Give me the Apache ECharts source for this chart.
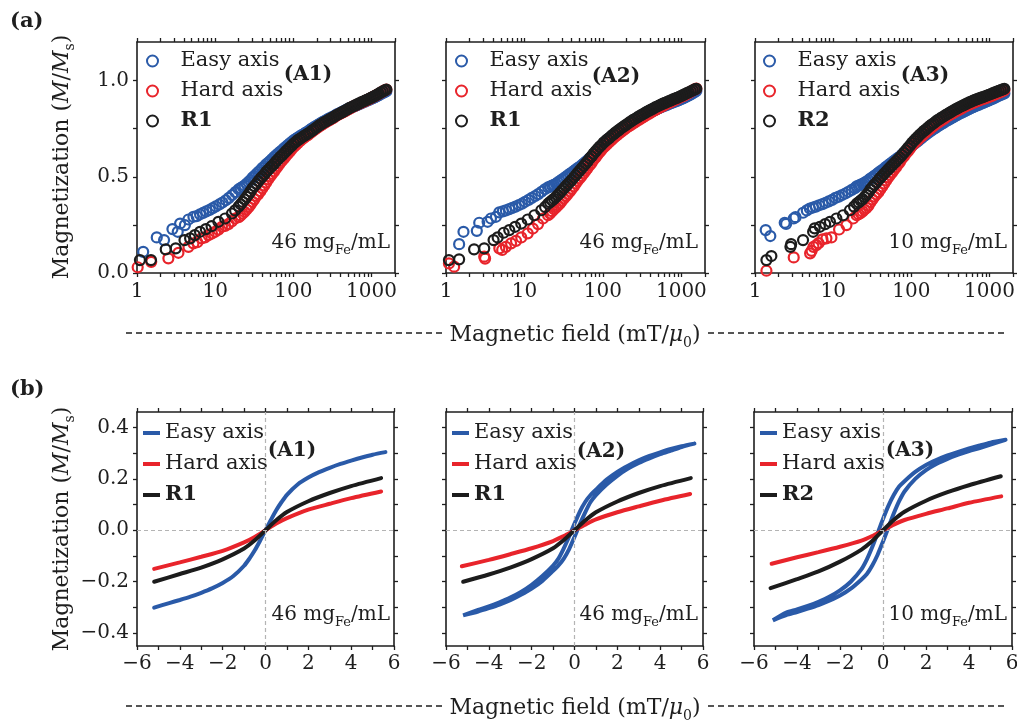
<!DOCTYPE html>
<html><head><meta charset="utf-8">
<script src="https://cdn.jsdelivr.net/npm/echarts@6.0.0/dist/echarts.min.js"></script>
<style>html,body{margin:0;padding:0;background:#fff;}#chart{width:1017px;height:724px;}</style>
</head><body><div id="chart"></div>
<script>
// ---------------- data ----------------
const panelIds = ['A1', 'A2', 'A3'];
const refNames = ['R1', 'R1', 'R2'];
const concValues = ['46', '46', '10'];
const easyName = 'Easy axis';
const hardName = 'Hard axis';

// (a) tick values
const fieldMajorTicks = [1, 10, 100, 1000];
const fieldAllTicks = [1,2,3,4,5,6,7,8,9,10,20,30,40,50,60,70,80,90,100,200,300,400,500,600,700,800,900,1000,2000];
const magTicksA = [0, 0.25, 0.5, 0.75, 1.0];
const magLabelsA = [0, 0.5, 1.0];
// (b) tick values
const magTicksB = [-0.4, -0.3, -0.2, -0.1, 0, 0.1, 0.2, 0.3, 0.4];
const magLabelsB = [-0.4, -0.2, 0, 0.2, 0.4];

// (a) high-field measurement fields (mT) shared by the dense part of each scatter series
const fieldGrid = [20,21.2,22.5,23.8,25.2,26.7,28.3,30,31.8,33.7,
  35.7,37.9,40.1,42.5,45,47.7,50.6,53.6,56.8,60.2,
  63.8,67.7,71.7,76,80.6,85.4,90.5,96,102,108,
  114,121,128,136,144,153,162,172,182,193,
  204,217,230,243,258,274,290,307,326,345,
  366,388,411,436,462,490,519,550,583,618,
  655,695,736,781,827,877,930,985,1045,1107,
  1174,1244,1319,1398,1482,1550];

// (a) low-field points [H, M/Ms]
const lowA1Easy = [[1.2,0.11],[1.79,0.185],[2.22,0.171],[2.84,0.228],[3.32,0.214],[3.56,0.257],[4.1,0.249],[4.55,0.278],[5.27,0.292],[5.8,0.295],[6.4,0.305],[7,0.312],[7.7,0.32],[8.5,0.328],[9.3,0.337],[10.2,0.346],[11.3,0.356],[12.4,0.366],[13.7,0.378],[15,0.39],[16.5,0.405],[18.2,0.42]];
const lowA1Hard = [[1.02,0.03],[1.52,0.058],[2.52,0.076],[3.39,0.105],[4.55,0.136],[5.27,0.154],[5.9,0.16],[6.7,0.18],[7.4,0.185],[8.2,0.197],[9.1,0.205],[10,0.214],[11,0.225],[12.2,0.24],[13.4,0.245],[14.8,0.254],[16.3,0.268],[18,0.283]];
const lowA1Ref = [[1.09,0.067],[1.51,0.067],[2.33,0.123],[3.13,0.128],[4.05,0.171],[4.78,0.18],[5.5,0.197],[6.4,0.214],[7.6,0.228],[9.0,0.243],[11,0.266],[13.4,0.283],[16.4,0.309],[18,0.325]];
const lowA2Easy = [[1.47,0.15],[1.67,0.214],[2.47,0.219],[2.65,0.261],[3.39,0.266],[3.74,0.283],[4.33,0.292],[4.78,0.315],[5.3,0.32],[5.8,0.325],[6.4,0.332],[7,0.338],[7.7,0.345],[8.5,0.353],[9.3,0.36],[10.2,0.37],[11.3,0.38],[12.4,0.39],[13.7,0.40],[15,0.41],[16.5,0.422],[18.2,0.435]];
const lowA2Hard = [[1.09,0.05],[1.27,0.033],[3.07,0.085],[3.15,0.075],[4.78,0.128],[5.2,0.12],[5.8,0.136],[6.75,0.154],[7.8,0.167],[9.1,0.185],[11,0.206],[12.8,0.231],[14.9,0.254],[17.2,0.283]];
const lowA2Ref = [[1.09,0.067],[1.47,0.071],[2.28,0.123],[3.07,0.128],[4.04,0.171],[4.55,0.185],[5.43,0.209],[6.4,0.223],[7.6,0.24],[9.1,0.257],[11,0.278],[13.4,0.30],[16.4,0.326],[18.3,0.343]];
const lowA3Easy = [[1.37,0.223],[1.57,0.192],[2.4,0.261],[2.5,0.255],[3.13,0.283],[3.3,0.29],[4.12,0.313],[4.6,0.325],[5.03,0.335],[5.5,0.34],[6,0.345],[6.6,0.352],[7.3,0.358],[8,0.365],[8.8,0.372],[9.7,0.38],[10.7,0.39],[11.8,0.397],[13,0.405],[14.3,0.413],[15.7,0.422],[17.3,0.432],[19,0.441]];
const lowA3Hard = [[1.4,0.012],[3.13,0.081],[5.07,0.102],[5.3,0.115],[5.6,0.136],[6.1,0.145],[6.5,0.155],[7.3,0.175],[8.2,0.18],[9.5,0.185],[11.9,0.226],[14.8,0.249],[18,0.283]];
const lowA3Ref = [[1.4,0.067],[1.62,0.088],[2.84,0.136],[2.9,0.15],[4.12,0.171],[5.54,0.214],[5.8,0.232],[6.76,0.24],[7.9,0.254],[9.1,0.266],[11,0.283],[13.4,0.30],[16.4,0.326],[18.5,0.345]];

// (a) M/Ms read on fieldGrid
const hiA1Easy = [0.435,0.441,0.448,0.454,0.463,0.473,0.482,0.495,0.503,0.514,
  0.524,0.533,0.545,0.553,0.565,0.573,0.582,0.592,0.602,0.611,
  0.62,0.629,0.637,0.648,0.656,0.665,0.674,0.682,0.69,0.697,
  0.703,0.71,0.716,0.722,0.729,0.735,0.742,0.75,0.756,0.762,
  0.768,0.775,0.781,0.787,0.792,0.798,0.803,0.808,0.813,0.819,
  0.825,0.83,0.835,0.84,0.845,0.85,0.855,0.859,0.864,0.868,
  0.872,0.877,0.881,0.886,0.89,0.895,0.899,0.904,0.908,0.913,
  0.918,0.924,0.93,0.935,0.94,0.944];
const hiA1Hard = [0.29,0.299,0.309,0.318,0.33,0.342,0.355,0.37,0.384,0.4,
  0.41,0.425,0.44,0.455,0.47,0.487,0.502,0.515,0.528,0.543,
  0.556,0.571,0.583,0.595,0.608,0.62,0.632,0.644,0.656,0.665,
  0.675,0.685,0.694,0.701,0.709,0.716,0.725,0.733,0.741,0.748,
  0.755,0.763,0.769,0.776,0.782,0.788,0.794,0.8,0.806,0.813,
  0.82,0.825,0.83,0.836,0.841,0.847,0.852,0.859,0.864,0.869,
  0.874,0.879,0.884,0.889,0.893,0.898,0.903,0.908,0.914,0.919,
  0.925,0.931,0.937,0.943,0.949,0.953];
const hiA1Ref = [0.345,0.357,0.37,0.382,0.395,0.409,0.424,0.44,0.452,0.463,
  0.477,0.49,0.501,0.512,0.525,0.536,0.547,0.557,0.567,0.58,
  0.591,0.602,0.611,0.622,0.633,0.643,0.653,0.663,0.674,0.682,
  0.69,0.697,0.704,0.711,0.717,0.724,0.73,0.738,0.745,0.753,
  0.76,0.768,0.774,0.781,0.786,0.792,0.798,0.803,0.81,0.816,
  0.822,0.827,0.833,0.838,0.844,0.85,0.856,0.861,0.866,0.871,
  0.876,0.881,0.886,0.891,0.895,0.9,0.905,0.91,0.915,0.92,
  0.926,0.932,0.938,0.943,0.949,0.953];
const hiA2Easy = [0.445,0.449,0.454,0.458,0.463,0.471,0.478,0.485,0.492,0.5,
  0.507,0.515,0.522,0.53,0.537,0.545,0.552,0.56,0.568,0.577,
  0.586,0.596,0.605,0.615,0.626,0.637,0.648,0.66,0.672,0.683,
  0.692,0.7,0.708,0.716,0.724,0.732,0.74,0.748,0.755,0.762,
  0.769,0.776,0.782,0.788,0.794,0.8,0.806,0.811,0.817,0.822,
  0.828,0.833,0.838,0.843,0.847,0.852,0.856,0.861,0.865,0.869,
  0.873,0.878,0.882,0.886,0.89,0.894,0.898,0.903,0.907,0.912,
  0.917,0.922,0.928,0.934,0.941,0.946];
const hiA2Hard = [0.30,0.31,0.321,0.331,0.341,0.351,0.362,0.375,0.387,0.399,
  0.411,0.424,0.437,0.45,0.465,0.479,0.492,0.504,0.518,0.532,
  0.545,0.56,0.572,0.588,0.6,0.614,0.627,0.639,0.652,0.662,
  0.671,0.681,0.69,0.7,0.709,0.717,0.726,0.734,0.742,0.75,
  0.757,0.764,0.771,0.777,0.784,0.791,0.797,0.803,0.81,0.816,
  0.822,0.828,0.834,0.84,0.846,0.852,0.857,0.863,0.868,0.874,
  0.879,0.884,0.889,0.894,0.899,0.904,0.909,0.914,0.919,0.924,
  0.93,0.936,0.942,0.948,0.954,0.958];
const hiA2Ref = [0.36,0.368,0.377,0.385,0.395,0.405,0.416,0.428,0.439,0.451,
  0.462,0.473,0.484,0.496,0.508,0.52,0.532,0.544,0.556,0.568,
  0.58,0.595,0.606,0.62,0.632,0.644,0.655,0.665,0.677,0.686,
  0.694,0.702,0.712,0.72,0.729,0.737,0.745,0.753,0.76,0.767,
  0.774,0.782,0.788,0.796,0.801,0.808,0.814,0.82,0.826,0.832,
  0.838,0.843,0.849,0.854,0.86,0.865,0.87,0.875,0.88,0.884,
  0.888,0.893,0.897,0.902,0.906,0.91,0.914,0.919,0.924,0.929,
  0.934,0.939,0.944,0.949,0.954,0.957];
const hiA3Easy = [0.45,0.454,0.459,0.463,0.469,0.475,0.482,0.49,0.497,0.505,
  0.512,0.52,0.528,0.535,0.543,0.551,0.559,0.567,0.575,0.583,
  0.59,0.598,0.605,0.615,0.624,0.633,0.642,0.651,0.662,0.67,
  0.677,0.685,0.694,0.702,0.711,0.718,0.726,0.734,0.741,0.748,
  0.754,0.762,0.768,0.774,0.78,0.787,0.793,0.798,0.804,0.81,
  0.816,0.821,0.827,0.832,0.837,0.842,0.847,0.852,0.857,0.862,
  0.867,0.871,0.875,0.88,0.884,0.888,0.892,0.897,0.902,0.906,
  0.911,0.916,0.921,0.925,0.93,0.933];
const hiA3Hard = [0.30,0.305,0.312,0.32,0.33,0.338,0.35,0.368,0.382,0.397,
  0.408,0.42,0.435,0.45,0.465,0.481,0.497,0.51,0.523,0.537,
  0.55,0.565,0.577,0.595,0.607,0.621,0.633,0.646,0.661,0.672,
  0.681,0.691,0.701,0.711,0.72,0.729,0.739,0.747,0.756,0.764,
  0.772,0.78,0.786,0.793,0.799,0.807,0.814,0.82,0.826,0.832,
  0.838,0.843,0.849,0.854,0.86,0.865,0.87,0.875,0.879,0.884,
  0.888,0.892,0.896,0.9,0.904,0.907,0.911,0.915,0.919,0.923,
  0.928,0.932,0.937,0.941,0.946,0.95];
const hiA3Ref = [0.36,0.367,0.376,0.384,0.395,0.406,0.418,0.435,0.447,0.459,
  0.47,0.483,0.494,0.505,0.516,0.527,0.538,0.549,0.559,0.57,
  0.58,0.591,0.601,0.613,0.625,0.637,0.65,0.662,0.676,0.687,
  0.697,0.707,0.718,0.727,0.737,0.745,0.754,0.763,0.771,0.778,
  0.786,0.794,0.8,0.807,0.813,0.82,0.826,0.832,0.838,0.844,
  0.85,0.855,0.861,0.866,0.871,0.876,0.881,0.886,0.89,0.895,
  0.899,0.903,0.907,0.911,0.914,0.918,0.922,0.926,0.93,0.934,
  0.938,0.942,0.946,0.95,0.954,0.957];

// (b) loops [H (mT), M/Ms]
const loopB1Easy = [[-5.2,-0.301],[-4.5,-0.283],[-4,-0.271],[-3.5,-0.258],[-3,-0.243],[-2.5,-0.226],[-2,-0.205],[-1.5,-0.178],[-1,-0.138],[-0.75,-0.11],[-0.5,-0.078],[-0.25,-0.04],[0,0],[0.25,0.04],[0.5,0.078],[0.75,0.11],[1,0.138],[1.5,0.178],[2,0.205],[2.5,0.226],[3,0.243],[3.5,0.258],[4,0.271],[4.5,0.283],[5,0.294],[5.6,0.304]];
const loopB1Hard = [[-5.2,-0.15],[-4,-0.125],[-3,-0.103],[-2,-0.08],[-1,-0.047],[-0.5,-0.026],[0,0],[0.5,0.026],[1,0.047],[2,0.08],[3,0.103],[4,0.125],[5.4,0.151]];
const loopB1Ref = [[-5.2,-0.2],[-4,-0.17],[-3,-0.145],[-2,-0.113],[-1,-0.071],[-0.5,-0.039],[0,0],[0.5,0.039],[1,0.071],[2,0.113],[3,0.145],[4,0.172],[5.4,0.203]];
const loopB2EasyDown = [[5.6,0.337],[5,0.327],[4.5,0.316],[4,0.303],[3.5,0.289],[3,0.272],[2.5,0.251],[2,0.227],[1.5,0.197],[1,0.158],[0.75,0.137],[0.5,0.11],[0.25,0.073],[0,0.026],[-0.25,-0.024],[-0.5,-0.07],[-0.75,-0.11],[-1,-0.137],[-1.5,-0.178],[-2,-0.212],[-2.5,-0.24],[-3,-0.262],[-3.5,-0.28],[-4,-0.296],[-4.5,-0.31],[-5.2,-0.331]];
const loopB2EasyUp = [[-5.2,-0.331],[-4.5,-0.316],[-4,-0.303],[-3.5,-0.289],[-3,-0.272],[-2.5,-0.251],[-2,-0.227],[-1.5,-0.197],[-1,-0.158],[-0.75,-0.137],[-0.5,-0.11],[-0.25,-0.073],[0,-0.026],[0.25,0.024],[0.5,0.07],[0.75,0.11],[1,0.137],[1.5,0.178],[2,0.212],[2.5,0.24],[3,0.262],[3.5,0.28],[4,0.296],[4.5,0.31],[5,0.324],[5.6,0.337]];
const loopB2Hard = [[-5.26,-0.14],[-4,-0.115],[-3,-0.093],[-2,-0.07],[-1,-0.042],[-0.5,-0.022],[0,0],[0.5,0.022],[1,0.042],[2,0.07],[3,0.093],[4,0.115],[5.4,0.141]];
const loopB2Ref = [[-5.2,-0.2],[-4,-0.172],[-3,-0.145],[-2,-0.112],[-1,-0.07],[-0.5,-0.038],[0,0],[0.5,0.038],[1,0.07],[2,0.112],[3,0.145],[4,0.172],[5.43,0.203]];
const loopB3EasyDown = [[5.7,0.352],[5,0.341],[4.5,0.33],[4,0.318],[3.5,0.305],[3,0.291],[2.5,0.274],[2,0.254],[1.5,0.227],[1,0.191],[0.75,0.17],[0.5,0.137],[0.25,0.095],[0,0.044],[-0.25,-0.011],[-0.5,-0.065],[-0.75,-0.113],[-1,-0.151],[-1.5,-0.2],[-2,-0.234],[-2.5,-0.259],[-3,-0.278],[-3.5,-0.294],[-4,-0.308],[-4.5,-0.32],[-5.12,-0.35]];
const loopB3EasyUp = [[-5.12,-0.35],[-4.5,-0.33],[-4,-0.318],[-3.5,-0.305],[-3,-0.291],[-2.5,-0.274],[-2,-0.254],[-1.5,-0.227],[-1,-0.191],[-0.75,-0.17],[-0.5,-0.137],[-0.25,-0.095],[0,-0.044],[0.25,0.011],[0.5,0.065],[0.75,0.113],[1,0.151],[1.5,0.2],[2,0.234],[2.5,0.259],[3,0.278],[3.5,0.294],[4,0.308],[4.5,0.32],[5,0.333],[5.7,0.352]];
const loopB3Hard = [[-5.18,-0.13],[-4,-0.105],[-3,-0.085],[-2,-0.064],[-1,-0.04],[-0.5,-0.022],[0,0],[0.5,0.022],[1,0.04],[2,0.064],[3,0.085],[4,0.107],[5.5,0.132]];
const loopB3Ref = [[-5.23,-0.225],[-4,-0.19],[-3,-0.16],[-2,-0.122],[-1,-0.075],[-0.5,-0.042],[0,0],[0.5,0.04],[1,0.072],[2,0.115],[3,0.148],[4,0.175],[5.48,0.21]];

// ---------------- style / layout ----------------
const FONT = 'DejaVu Serif';
const AX = '#1e1e1e';
const TXT = '#1e1e1e';
const COL = { easy: '#2a5aa8', hard: '#e8242b', ref: '#1c1c1c' };
const gridRects = [
  { left: 137, top: 42, width: 258, height: 231 },
  { left: 446, top: 42, width: 259, height: 231 },
  { left: 755, top: 42, width: 258, height: 231 },
  { left: 137, top: 412, width: 257, height: 234 },
  { left: 446, top: 412, width: 257, height: 234 },
  { left: 754, top: 412, width: 258, height: 234 }
];
const legendPosA = [146, 455, 763];
const legendPosB = [143, 452, 760];
const tagPos = [[308, 75], [616, 77], [925, 76], [292, 451], [601, 452], [910, 451]];
const concRight = [390, 698, 1007];

const lowEasy = [lowA1Easy, lowA2Easy, lowA3Easy];
const lowHard = [lowA1Hard, lowA2Hard, lowA3Hard];
const lowRef = [lowA1Ref, lowA2Ref, lowA3Ref];
const hiEasy = [hiA1Easy, hiA2Easy, hiA3Easy];
const hiHard = [hiA1Hard, hiA2Hard, hiA3Hard];
const hiRef = [hiA1Ref, hiA2Ref, hiA3Ref];
const bEasy = [loopB1Easy, loopB2EasyDown.concat(loopB2EasyUp), loopB3EasyDown.concat(loopB3EasyUp)];
const bHard = [loopB1Hard, loopB2Hard, loopB3Hard];
const bRef = [loopB1Ref, loopB2Ref, loopB3Ref];

function combine(low, hi) { return low.concat(fieldGrid.map((h, k) => [h, hi[k]])); }
function minus(s) { return String(s).replace('-', '\u2212'); }

const lineStyleAx = { color: AX, width: 1.6 };
const tickStyle = { color: AX, width: 1.3 };
const labelBase = { fontFamily: FONT, fontSize: 20, color: TXT };

const grid = gridRects.map(r => Object.assign({ containLabel: false, outerBoundsMode: 'none' }, r));
const xAxis = [], yAxis = [], series = [], legend = [];

// ----- panel (a) axes -----
for (let i = 0; i < 3; i++) {
  ['bottom', 'top'].forEach(pos => {
    xAxis.push({
      type: 'log', logBase: 10, gridIndex: i, min: 1, max: 2000, position: pos,
      axisLine: { show: true, onZero: false, lineStyle: lineStyleAx },
      axisTick: { show: true, length: 4, lineStyle: tickStyle, customValues: fieldAllTicks },
      axisLabel: pos === 'bottom'
        ? Object.assign({ show: true, margin: 9, customValues: fieldMajorTicks, formatter: v => String(Math.round(v)) }, labelBase)
        : { show: false },
      splitLine: { show: false }, minorTick: { show: false }
    });
  });
  ['left', 'right'].forEach(pos => {
    yAxis.push({
      type: 'value', gridIndex: i, min: 0, max: 1.2, position: pos,
      axisLine: { show: true, onZero: false, lineStyle: lineStyleAx },
      axisTick: { show: true, length: 4, lineStyle: tickStyle, customValues: magTicksA },
      axisLabel: (pos === 'left' && i === 0)
        ? Object.assign({ show: true, margin: 8, customValues: magLabelsA, formatter: v => v.toFixed(1) }, labelBase)
        : { show: false },
      splitLine: { show: false }
    });
  });
}
// ----- panel (b) axes -----
for (let i = 0; i < 3; i++) {
  const g = 3 + i;
  ['bottom', 'top'].forEach(pos => {
    xAxis.push({
      type: 'value', gridIndex: g, min: -6, max: 6, interval: 2, position: pos,
      axisLine: { show: true, onZero: false, lineStyle: lineStyleAx },
      axisTick: { show: true, length: 4, lineStyle: tickStyle },
      minorTick: { show: true, splitNumber: 2, length: 4, lineStyle: tickStyle },
      axisLabel: pos === 'bottom'
        ? Object.assign({ show: true, margin: 8, formatter: v => minus(v) }, labelBase)
        : { show: false },
      splitLine: { show: false }
    });
  });
  ['left', 'right'].forEach(pos => {
    yAxis.push({
      type: 'value', gridIndex: g, min: -0.45, max: 0.46, position: pos,
      axisLine: { show: true, onZero: false, lineStyle: lineStyleAx },
      axisTick: { show: true, length: 4, lineStyle: tickStyle, customValues: magTicksB },
      axisLabel: (pos === 'left' && i === 0)
        ? Object.assign({ show: true, margin: 8, customValues: magLabelsB, formatter: v => minus(v.toFixed(1)) }, labelBase)
        : { show: false },
      splitLine: { show: false }
    });
  });
}

// ----- series -----
const legendText = {
  fontFamily: FONT, fontSize: 21, color: TXT, lineHeight: 24,
  rich: { b: { fontFamily: FONT, fontSize: 21, fontWeight: 'bold', color: TXT, lineHeight: 24 } }
};
function legendFmt(name) { const t = name.split('|')[1]; return /^R\d/.test(t) ? '{b|' + t + '}' : t; }

for (let i = 0; i < 3; i++) {
  const names = [];
  [[easyName, COL.easy, lowEasy[i], hiEasy[i]], [hardName, COL.hard, lowHard[i], hiHard[i]], [refNames[i], COL.ref, lowRef[i], hiRef[i]]]
    .forEach(([nm, col, low, hi]) => {
      const sname = 'a' + panelIds[i] + '|' + nm;
      names.push(sname);
      series.push({
        type: 'scatter', name: sname, xAxisIndex: 2 * i, yAxisIndex: 2 * i,
        symbol: 'circle', symbolSize: 10,
        itemStyle: { color: 'transparent', borderColor: col, borderWidth: 2.2, opacity: 1 },
        data: combine(low, hi), silent: true, animation: false
      });
    });
  legend.push({
    orient: 'vertical', left: legendPosA[i], top: 49, padding: 0, itemGap: 6,
    itemWidth: 46, itemHeight: 11, selectedMode: false,
    data: names, formatter: legendFmt, textStyle: legendText
  });
}
for (let i = 0; i < 3; i++) {
  const g = 3 + i;
  // zero reference lines
  series.push({
    type: 'line', name: 'zero' + i, xAxisIndex: 2 * g, yAxisIndex: 2 * g, data: [], z: 1, silent: true,
    markLine: {
      silent: true, symbol: ['none', 'none'], label: { show: false }, animation: false,
      lineStyle: { color: '#b4b4b4', type: [4, 3], width: 1.2 },
      data: [{ xAxis: 0 }, { yAxis: 0 }]
    }
  });
  const names = [];
  [[easyName, COL.easy, bEasy[i]], [hardName, COL.hard, bHard[i]], [refNames[i], COL.ref, bRef[i]]]
    .forEach(([nm, col, d]) => {
      const sname = 'b' + panelIds[i] + '|' + nm;
      names.push({ name: sname, icon: 'rect' });
      series.push({
        type: 'line', name: sname, xAxisIndex: 2 * g, yAxisIndex: 2 * g, z: 3,
        symbol: 'none', smooth: 0.25, lineStyle: { color: col, width: 4, cap: 'round' }, itemStyle: { color: col },
        data: d, silent: true, animation: false
      });
    });
  legend.push({
    orient: 'vertical', left: legendPosB[i], top: 421, padding: 0, itemGap: 7,
    itemWidth: 17, itemHeight: 4, selectedMode: false,
    data: names, formatter: legendFmt, textStyle: legendText
  });
}

// ----- texts -----
const richMain = {
  n: { fontFamily: FONT, fontSize: 22, fill: TXT, lineHeight: 30, verticalAlign: 'middle' },
  i: { fontFamily: FONT, fontSize: 22, fontStyle: 'italic', fill: TXT, lineHeight: 30, verticalAlign: 'middle' },
  s: { fontFamily: FONT, fontSize: 14, fill: TXT, lineHeight: 14, verticalAlign: 'bottom' }
};
const richConc = {
  n: { fontFamily: FONT, fontSize: 20, fill: TXT, lineHeight: 28, verticalAlign: 'middle' },
  s: { fontFamily: FONT, fontSize: 13, fill: TXT, lineHeight: 13, verticalAlign: 'bottom' }
};
const yTitle = '{n|Magnetization (}{i|M}{n|/}{i|M}{s|s}{n|)}';
const xTitle = '{n|Magnetic field (mT/}{i|\u03bc}{s|0}{n|)}';
const graphic = [];
graphic.push({ type: 'text', x: 10, y: 22, style: { text: '(a)', font: 'bold 21px "DejaVu Serif"', fill: TXT, align: 'left', verticalAlign: 'middle' } });
graphic.push({ type: 'text', x: 10, y: 390, style: { text: '(b)', font: 'bold 21px "DejaVu Serif"', fill: TXT, align: 'left', verticalAlign: 'middle' } });
[157, 529].forEach(cy => {
  graphic.push({ type: 'text', x: 62, y: cy, rotation: Math.PI / 2, style: { text: yTitle, rich: richMain, align: 'center', verticalAlign: 'middle' } });
});
[[333, 335], [706, 708]].forEach(([ly, ty]) => {
  graphic.push({ type: 'line', shape: { x1: 126, y1: ly, x2: 442, y2: ly }, style: { stroke: AX, lineWidth: 1.4, lineDash: [6, 4] } });
  graphic.push({ type: 'line', shape: { x1: 708, y1: ly, x2: 1006, y2: ly }, style: { stroke: AX, lineWidth: 1.4, lineDash: [6, 4] } });
  graphic.push({ type: 'text', x: 575, y: ty, style: { text: xTitle, rich: richMain, align: 'center', verticalAlign: 'middle' } });
});
for (let k = 0; k < 6; k++) {
  graphic.push({ type: 'text', x: tagPos[k][0], y: tagPos[k][1], style: { text: '(' + panelIds[k % 3] + ')', font: 'bold 20px "DejaVu Serif"', fill: TXT, align: 'center', verticalAlign: 'middle' } });
}
[243, 615].forEach(cy => {
  for (let i = 0; i < 3; i++) {
    graphic.push({ type: 'text', x: concRight[i], y: cy, style: { text: '{n|' + concValues[i] + ' mg}{s|Fe}{n|/mL}', rich: richConc, align: 'right', verticalAlign: 'middle' } });
  }
});

const chart = echarts.init(document.getElementById('chart'), null, { renderer: 'canvas' });
chart.setOption({
  backgroundColor: '#ffffff', animation: false,
  textStyle: { fontFamily: FONT },
  grid, xAxis, yAxis, series, legend, graphic
});
</script>
</body></html>
